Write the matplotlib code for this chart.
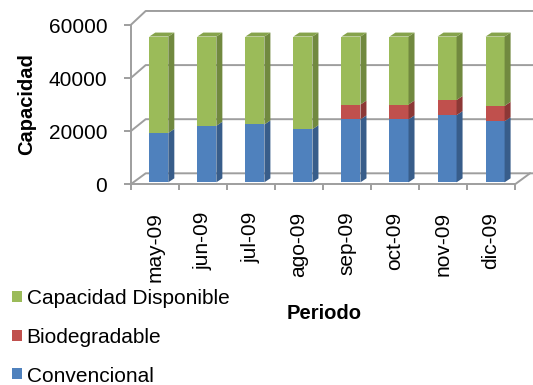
import matplotlib

matplotlib.use("Agg")
import matplotlib.pyplot as plt
from matplotlib.patches import Polygon, Rectangle

plt.rcParams["font.family"] = ["Liberation Sans", "DejaVu Sans"]

MONTHS = ["may-09", "jun-09", "jul-09", "ago-09", "sep-09", "oct-09", "nov-09", "dic-09"]
CONVENCIONAL = [18600, 21300, 21800, 20000, 23700, 23700, 25300, 23000]
BIODEGRADABLE = [0, 0, 0, 0, 5600, 5600, 5700, 5800]
DISPONIBLE = [36300, 33600, 33100, 34900, 25600, 25600, 23900, 26100]
Y_TICKS = [0, 20000, 40000, 60000]

# stacking order, bottom to top
SERIES = [
    ("Convencional", CONVENCIONAL),
    ("Biodegradable", BIODEGRADABLE),
    ("Capacidad Disponible", DISPONIBLE),
]
FRONT = {"Convencional": "#4F81BD", "Biodegradable": "#C0504D",
         "Capacidad Disponible": "#9BBB59"}
SIDE = {"Convencional": "#385D8A", "Biodegradable": "#8C3836",
        "Capacidad Disponible": "#71893F"}
TOP = {"Convencional": "#4372A8", "Biodegradable": "#A84543",
       "Capacidad Disponible": "#86A34C"}
GRID = "#9E9E9E"
LW = 1.4

# fake 3D box geometry, in category / value units
WALL_DX, WALL_DY = 0.312, 4140
WALL_SCALE = 1.019
BAR_X0, BAR_W = 0.387, 0.396
BAR_DX, BAR_DY = 0.125, 1500
BAR_LIFT = 750

W, H = 533, 385
fig = plt.figure(figsize=(W / 100, H / 100), dpi=100)
# category 0 at x=130.7px (48.04 px per category), value 0 at y=184.3px
ax = fig.add_axes([130.7 / W, (H - 184.3) / H, (W - 130.7) / W, (184.3 - 5) / H])
xmax = (W - 130.7) / 48.04
ax.set_xlim(0, xmax)
ax.set_ylim(0, (184.3 - 5) / 2.655 * 1000)
ax.patch.set_visible(False)

n = len(MONTHS)

for side in ("top", "right"):
    ax.spines[side].set_visible(False)
for side in ("left", "bottom"):
    ax.spines[side].set_color(GRID)
    ax.spines[side].set_linewidth(LW)
ax.spines["left"].set_bounds(0, Y_TICKS[-1])
ax.spines["bottom"].set_bounds(0, n)

# side wall diagonals + back wall gridlines
for v in Y_TICKS:
    yb = v * WALL_SCALE + WALL_DY
    ax.plot([0, WALL_DX, xmax + 0.2], [v, yb, yb], color=GRID, lw=LW,
            clip_on=False, zorder=1)
ax.plot([n, n + WALL_DX], [0, WALL_DY], color=GRID, lw=LW, clip_on=False, zorder=1)

# stacked bars: front faces, right side faces, top face on last segment
bottoms = [0] * n
for name, vals in SERIES:
    xs = [i + BAR_X0 for i in range(n)]
    ax.bar(xs, vals, width=BAR_W, bottom=[b + BAR_LIFT for b in bottoms],
           align="edge", color=FRONT[name], linewidth=0, zorder=3)
    for i, v in enumerate(vals):
        if v == 0:
            continue
        y0 = bottoms[i] + BAR_LIFT
        y1 = y0 + v
        xr = i + BAR_X0 + BAR_W
        ax.add_patch(Polygon([(xr, y0), (xr + BAR_DX, y0 + BAR_DY),
                              (xr + BAR_DX, y1 + BAR_DY), (xr, y1)],
                             closed=True, fc=SIDE[name], lw=0, zorder=3))
    bottoms = [b + v for b, v in zip(bottoms, vals)]

top_name = SERIES[-1][0]
for i in range(n):
    y1 = bottoms[i] + BAR_LIFT
    xl = i + BAR_X0
    xr = xl + BAR_W
    ax.add_patch(Polygon([(xl, y1), (xl + BAR_DX, y1 + BAR_DY),
                          (xr + BAR_DX, y1 + BAR_DY), (xr, y1)],
                         closed=True, fc=TOP[top_name], lw=0, zorder=3))

ax.set_yticks(Y_TICKS, labels=[str(t) for t in Y_TICKS])
ax.tick_params(axis="y", length=4.8, width=LW, color=GRID, pad=12, labelsize=15)
ax.set_xticks(range(n + 1), labels=[""] * (n + 1))
ax.set_xticks([i + 0.5 for i in range(n)], labels=MONTHS, minor=True, rotation=90)
ax.tick_params(axis="x", which="major", length=4.1, width=LW, color=GRID)
ax.tick_params(axis="x", which="minor", length=0, pad=19.7, labelsize=15)

fig.text(27 / W, 1 - 104 / H, "Capacidad", rotation=90, ha="center", va="center",
         fontsize=14.5, fontweight="bold")
fig.text(323.7 / W, 1 - 319.3 / H, "Periodo", ha="center", va="baseline",
         fontsize=14.5, fontweight="bold")

# legend, top entry = top of stack
for k, (name, _) in enumerate(reversed(SERIES)):
    base = 304.3 + 38.8 * k
    fig.patches.append(Rectangle((11.7 / W, 1 - (base - 2.6) / H), 10 / W, 11 / H,
                                 transform=fig.transFigure, fc=FRONT[name], lw=0))
    fig.text(26.7 / W, 1 - base / H, name, ha="left", va="baseline", fontsize=15)

fig.savefig("out.png", dpi=100)
